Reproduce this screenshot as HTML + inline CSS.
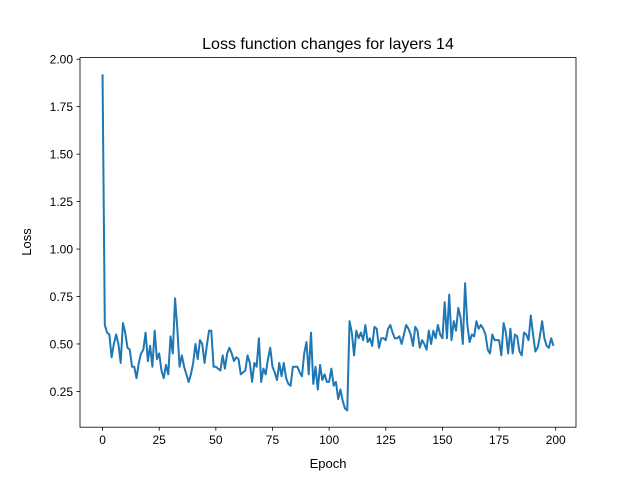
<!DOCTYPE html>
<html><head><meta charset="utf-8"><style>
body{margin:0;background:#fff;}
svg{display:block;font-family:"Liberation Sans","DejaVu Sans",sans-serif;}
</style></head><body>
<svg id="chart" width="640" height="480">
<rect x="0" y="0" width="640" height="480" fill="#fff"/>
<text x="328" y="49" font-size="16" text-anchor="middle">Loss function changes for layers 14</text>
<text x="328" y="468" font-size="13" text-anchor="middle">Epoch</text>
<text transform="translate(31,242) rotate(-90)" font-size="13" text-anchor="middle">Loss</text>
<g id="xticks"></g>
<g id="yticks"></g>
<path id="line" fill="none" stroke="#1f77b4" stroke-width="2" stroke-linejoin="round"/>
<rect x="80" y="57.6" width="496" height="369.6" fill="none" stroke="#000" stroke-width="0.8"/>
</svg>
<script>
const lossValues=[1.92,0.60,0.56,0.55,0.43,0.50,0.55,0.50,0.40,0.61,0.56,0.48,0.47,0.38,0.38,0.32,0.40,0.45,0.47,0.56,0.41,0.49,0.38,0.57,0.42,0.45,0.36,0.32,0.39,0.34,0.54,0.45,0.74,0.58,0.38,0.44,0.38,0.34,0.30,0.34,0.40,0.50,0.42,0.52,0.50,0.40,0.49,0.57,0.57,0.38,0.38,0.37,0.36,0.44,0.37,0.45,0.48,0.45,0.41,0.43,0.42,0.34,0.35,0.36,0.44,0.40,0.30,0.40,0.38,0.53,0.30,0.37,0.34,0.42,0.48,0.38,0.35,0.31,0.40,0.33,0.40,0.32,0.29,0.28,0.38,0.38,0.38,0.35,0.33,0.45,0.51,0.34,0.56,0.29,0.38,0.26,0.39,0.31,0.34,0.30,0.30,0.37,0.28,0.30,0.21,0.26,0.20,0.16,0.15,0.62,0.56,0.44,0.57,0.53,0.56,0.52,0.60,0.51,0.53,0.49,0.59,0.58,0.48,0.53,0.53,0.52,0.58,0.60,0.56,0.53,0.53,0.54,0.50,0.55,0.60,0.58,0.55,0.49,0.59,0.57,0.48,0.52,0.50,0.47,0.57,0.50,0.57,0.53,0.60,0.55,0.53,0.72,0.53,0.76,0.52,0.62,0.57,0.69,0.64,0.50,0.82,0.60,0.51,0.55,0.54,0.62,0.58,0.60,0.58,0.55,0.47,0.45,0.55,0.52,0.52,0.52,0.44,0.61,0.56,0.45,0.58,0.45,0.55,0.54,0.46,0.44,0.56,0.55,0.52,0.65,0.55,0.46,0.48,0.54,0.62,0.53,0.49,0.48,0.53,0.49];
const xTickValues=[0,25,50,75,100,125,150,175,200];
const yTickValues=[0.25,0.5,0.75,1.0,1.25,1.5,1.75,2.0];
const NS="http://www.w3.org/2000/svg";
const L=80,R=576,T=57.6,B=427.2;
const n=lossValues.length;
const xm=(n-1)*0.05, xmin=-xm, xmax=(n-1)+xm;
const ymn=Math.min(...lossValues), ymx=Math.max(...lossValues), ym=(ymx-ymn)*0.05;
const ymin=ymn-ym, ymax=ymx+ym;
function sx(v){return L+(v-xmin)/(xmax-xmin)*(R-L);}
function sy(v){return B-(v-ymin)/(ymax-ymin)*(B-T);}
const xg=document.getElementById('xticks'), yg=document.getElementById('yticks');
xTickValues.forEach(v=>{
  const x=sx(v);
  const l=document.createElementNS(NS,'line');
  l.setAttribute('x1',x);l.setAttribute('x2',x);l.setAttribute('y1',B);l.setAttribute('y2',B+3.5);l.setAttribute('stroke','#000');l.setAttribute('stroke-width','0.8');
  
  
  xg.appendChild(l);
  const t=document.createElementNS(NS,'text');
  t.setAttribute('x',x);t.setAttribute('y',B+17);t.setAttribute('font-size','12');t.setAttribute('text-anchor','middle');
  t.textContent=v;
  
  
  xg.appendChild(t);
});
yTickValues.forEach(v=>{
  const y=sy(v);
  const l=document.createElementNS(NS,'line');
  l.setAttribute('x1',L-3.5);l.setAttribute('x2',L);l.setAttribute('y1',y);l.setAttribute('y2',y);l.setAttribute('stroke','#000');l.setAttribute('stroke-width','0.8');
  
  
  yg.appendChild(l);
  const t=document.createElementNS(NS,'text');
  t.setAttribute('x',L-7);t.setAttribute('y',y+4.5);t.setAttribute('font-size','12');t.setAttribute('text-anchor','end');
  t.textContent=v.toFixed(2);
  
  
  yg.appendChild(t);
});
document.getElementById('line').setAttribute('d',lossValues.map((v,i)=>(i?'L':'M')+sx(i).toFixed(2)+' '+sy(v).toFixed(2)).join(' '));
</script>
</body></html>
